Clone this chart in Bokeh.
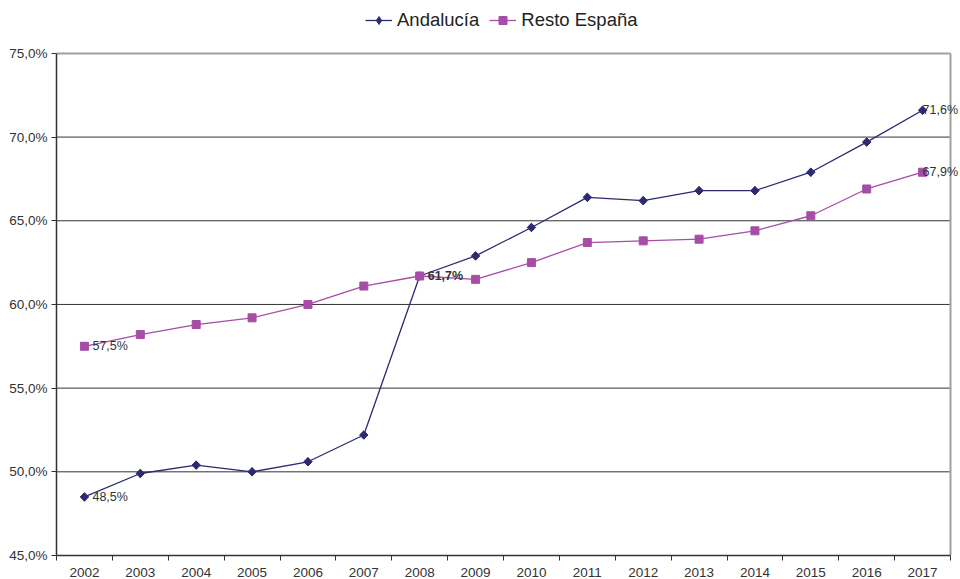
import math
from bokeh.plotting import figure
from bokeh.models import (ColumnDataSource, Range1d, FixedTicker, Legend, LegendItem, LabelSet)
from bokeh.core.properties import value
from bokeh.embed import file_html
from bokeh.resources import INLINE

years = [2002, 2003, 2004, 2005, 2006, 2007, 2008, 2009, 2010, 2011, 2012, 2013, 2014, 2015, 2016, 2017]
andalucia = [48.5, 49.9, 50.4, 50.0, 50.6, 52.2, 61.7, 62.9, 64.6, 66.4, 66.2, 66.8, 66.8, 67.9, 69.7, 71.6]
resto = [57.5, 58.2, 58.8, 59.2, 60.0, 61.1, 61.7, 61.5, 62.5, 63.7, 63.8, 63.9, 64.4, 65.3, 66.9, 67.9]
series_names = ["Andalucía", "Resto España"]
y_ticks = [45, 50, 55, 60, 65, 70, 75]
y_tick_labels = ["45,0%", "50,0%", "55,0%", "60,0%", "65,0%", "70,0%", "75,0%"]
x_tick_labels = [str(y) for y in years]

C_AND = "#2D2A70"
C_RES = "#A64DA6"
FONT = "Liberation Sans"
TXT = "#333333"

# layout (pixels)
W, H = 960, 579
LEFT, BOTTOM_AX = 56, 23
AXIS_RIGHT_PX = 950 - LEFT        # where the last category boundary sits inside the frame
AXIS_TOP_PX = 53                  # where 75% sits from the top of the frame
frame_w = W - LEFT
frame_h = H - BOTTOM_AX

x0, x1 = years[0] - 0.5, years[-1] + 0.5
x_end = x0 + (x1 - x0) * frame_w / AXIS_RIGHT_PX
y0, y1 = y_ticks[0], y_ticks[-1]
y_end = y0 + (y1 - y0) * frame_h / (frame_h - AXIS_TOP_PX)


def fmt(v):
    return ("%.1f%%" % v).replace(".", ",")


p = figure(width=W, height=H, output_backend="svg", toolbar_location=None,
           x_range=Range1d(x0, x_end), y_range=Range1d(y0, y_end),
           min_border_left=LEFT, min_border_right=0, min_border_top=0, min_border_bottom=0)

p.background_fill_color = "white"
p.border_fill_color = "white"
p.outline_line_color = None
p.xgrid.grid_line_color = None
p.ygrid.grid_line_color = None

# grid lines and plot border
gl = y_ticks[1:-1]
p.segment(x0=[x0] * len(gl), x1=[x1] * len(gl), y0=gl, y1=gl, line_color="#333333", line_width=1)
p.segment(x0=[x0, x1], x1=[x1, x1], y0=[y1, y0], y1=[y1, y1], line_color="#A0A0A0", line_width=2)

src = ColumnDataSource(dict(x=years, a=andalucia, r=resto))
la = p.line("x", "a", source=src, line_color=C_AND, line_width=1.3)
# diamond glyph (used for the legend swatch), covered by the rotated squares below
leg_a = p.scatter("x", "a", source=src, marker="diamond", size=8, fill_color=C_AND, line_color=C_AND)
sa = p.scatter("x", "a", source=src, marker="square", size=6, angle=math.pi / 4,
               fill_color=C_AND, line_color=C_AND)
lr = p.line("x", "r", source=src, line_color=C_RES, line_width=1.3)
sr = p.scatter("x", "r", source=src, marker="square", size=8, fill_color=C_RES, line_color=C_RES)

# axes
xa = p.xaxis[0]
xa.bounds = (x0, x1)
xa.ticker = FixedTicker(ticks=years, minor_ticks=[y - 0.5 for y in years] + [x1])
xa.major_label_overrides = {y: s for y, s in zip(years, x_tick_labels)}
xa.major_tick_in = 0
xa.major_tick_out = 0
xa.minor_tick_in = 0
xa.minor_tick_out = 5
xa.minor_tick_line_color = "#333333"
xa.axis_line_color = "#333333"
xa.axis_line_width = 1.5
xa.major_label_text_font = FONT
xa.major_label_text_font_size = "13.5px"
xa.major_label_text_color = TXT
xa.major_label_standoff = 7

ya = p.yaxis[0]
ya.bounds = (y0, y1)
ya.ticker = FixedTicker(ticks=y_ticks)
ya.major_label_overrides = {t: s for t, s in zip(y_ticks, y_tick_labels)}
ya.major_tick_in = 0
ya.major_tick_out = 5
ya.minor_tick_line_color = None
ya.major_tick_line_color = "#333333"
ya.axis_line_color = "#333333"
ya.axis_line_width = 1.5
ya.major_label_text_font = FONT
ya.major_label_text_font_size = "13.5px"
ya.major_label_text_color = TXT
ya.major_label_standoff = 4

# data labels
start_src = ColumnDataSource(dict(x=[years[0], years[0]], y=[andalucia[0], resto[0]],
                                  t=[fmt(andalucia[0]), fmt(resto[0])]))
end_src = ColumnDataSource(dict(x=[years[-1], years[-1]], y=[andalucia[-1], resto[-1]],
                                t=[fmt(andalucia[-1]), fmt(resto[-1])]))
mid_src = ColumnDataSource(dict(x=[years[6]], y=[andalucia[6]], t=[fmt(andalucia[6])]))

for s, off, style in [(start_src, 8, "normal"), (end_src, 0, "normal"), (mid_src, 8, "bold")]:
    p.add_layout(LabelSet(x="x", y="y", text="t", source=s, x_offset=off, y_offset=0,
                          text_baseline="middle", text_align="left", text_font=value(FONT),
                          text_font_size="12.5px", text_color=TXT, text_font_style=style))

legend = Legend(items=[LegendItem(label=series_names[0], renderers=[la, leg_a]),
                       LegendItem(label=series_names[1], renderers=[lr, sr])],
                orientation="horizontal", location=(365 - LEFT, frame_h - 32))
legend.label_text_font = FONT
legend.label_text_font_size = "18.5px"
legend.label_text_color = "#222222"
legend.glyph_width = 27
legend.glyph_height = 20
legend.label_standoff = 5
legend.spacing = 10
legend.padding = 0
legend.margin = 0
legend.border_line_color = None
legend.background_fill_alpha = 0
p.add_layout(legend, "center")

open("out.html", "w").write(file_html(p, INLINE))
